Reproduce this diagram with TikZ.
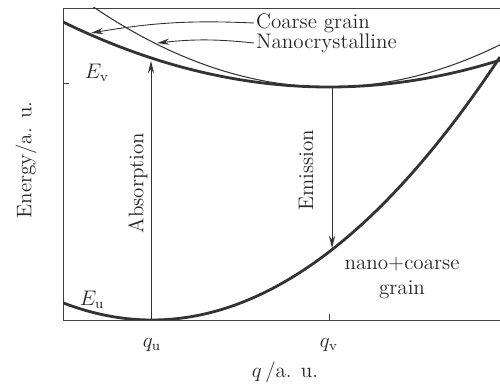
\documentclass[tikz,border=0pt]{standalone}
\usetikzlibrary{arrows.meta, positioning}

\begin{document}
\begin{tikzpicture}[
    x=0.02cm, y=0.02cm,
    >=Stealth,
    axis/.style={draw=black!75, line width=0.5pt},
    band/.style={draw=black!80, line width=1.6pt},
    thinband/.style={draw=black!80, line width=0.6pt},
    trans/.style={->, draw=black!80, line width=0.5pt, >={Stealth[length=7pt, width=3.5pt]}},
    lbl/.style={font=\large, inner sep=1pt, text=black!85},
    vlbl/.style={font=\large, rotate=90, inner sep=1pt, text=black!85}
]
\useasboundingbox (0,0) rectangle (500,385);

% axes and ticks
\draw[axis] (500,377) -- (63,377) -- (63,65) -- (500,65);
\draw[axis] (63,302) -- (69,302);
\draw[axis] (329,65) -- (329,71);

% energy bands
\begin{scope}
    \clip (63,65) rectangle (500,377);
    \draw[thinband] plot[domain=63:500, samples=90] (\x, {298+14.43*((\x-329)/100)^2});
    \draw[band] plot[domain=63:500, samples=90] (\x, {298+9.19*((\x-329)/100)^2});
    \draw[band] plot[domain=63:500, samples=90] (\x, {65+21.72*((\x-152)/100)^2});
\end{scope}

\coordinate (absBot) at (151,65);
\coordinate (absTop) at (151,324);
\coordinate (emTop) at (332,298);
\coordinate (emBot) at (332,137);
\coordinate (cgTip) at (91,352);
\coordinate (ncTip) at (157,342);

% labels
\node[lbl, anchor=west] (cg) at (254,362) {Coarse grain};
\node[lbl, anchor=west] (nc) at (254,342) {Nanocrystalline};
\node[lbl] (ev) at (97,312) {$E_{\mathrm{v}}$};
\node[lbl] (eu) at (92,85) {$E_{\mathrm{u}}$};
\node[lbl] (qu) at (152,40) {$q_{\mathrm{u}}$};
\node[lbl] (qv) at (329,40) {$q_{\mathrm{v}}$};
\node[lbl] (xlab) at (285,13) {$q\,$/a. u.};
\node[vlbl] (ylab) at (26,225) {Energy/a. u.};
\node[vlbl] (abs) at (138,202) {Absorption};
\node[vlbl] (em) at (306,215) {Emission};
\node[lbl, align=center] (mix) at (402,107) {nano+coarse\\grain};

% transitions
\draw[trans] (absBot) -- (absTop);
\draw[trans] (emTop) -- (emBot);
\draw[trans] (cg.west) to[bend right=6] (cgTip);
\draw[trans] (nc.west) to[bend right=6] (ncTip);

\end{tikzpicture}
\end{document}
